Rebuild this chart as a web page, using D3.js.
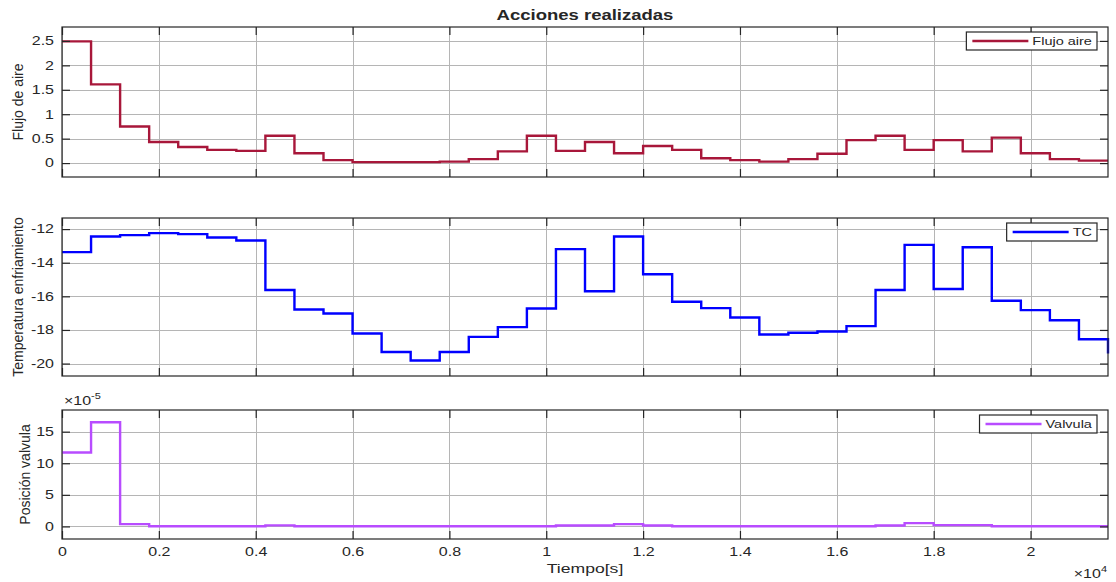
<!DOCTYPE html>
<html>
<head>
<meta charset="utf-8">
<script src="https://cdn.jsdelivr.net/npm/d3@7"></script>
<style>
  body { margin: 0; background: #fff; }
  svg { display: block; }
  text { font-family: "Liberation Sans", Arial, Helvetica, sans-serif; fill: #262626; }
</style>
</head>
<body>
<svg id="chart" width="1116" height="582"></svg>
<script>
// Sample instants (s): one control action every 600 s, plus the closing instant.
const times = [0, 600, 1200, 1800, 2400, 3000, 3600, 4200, 4800, 5400, 6000, 6600,
  7200, 7800, 8400, 9000, 9600, 10200, 10800, 11400, 12000, 12600, 13200, 13800,
  14400, 15000, 15600, 16200, 16800, 17400, 18000, 18600, 19200, 19800, 20400, 21000, 21600];

// Air flow action
const flujoAire = [2.49, 1.61, 0.75, 0.43, 0.33, 0.27, 0.25, 0.56, 0.20, 0.06, 0.02, 0.02,
  0.02, 0.03, 0.08, 0.24, 0.56, 0.25, 0.43, 0.20, 0.35, 0.27, 0.10, 0.06,
  0.03, 0.08, 0.19, 0.47, 0.56, 0.27, 0.47, 0.24, 0.52, 0.20, 0.08, 0.05, 0.05];

// Cooling temperature action (TC)
const tempEnfriamiento = [-13.37, -12.44, -12.36, -12.24, -12.30, -12.50, -12.68, -15.62, -16.78, -17.02, -18.21, -19.31,
  -19.82, -19.31, -18.41, -17.83, -16.72, -13.19, -15.70, -12.44, -14.69, -16.32, -16.70, -17.26,
  -18.27, -18.17, -18.09, -17.77, -15.62, -12.94, -15.56, -13.08, -16.26, -16.82, -17.42, -18.55, -19.40];

// Valve position
const posValvula = [11.7e-5, 16.5e-5, 0.37e-5, 0.04e-5, 0.02e-5, 0.02e-5, 0.02e-5, 0.16e-5, 0.02e-5, 0.02e-5, 0.02e-5, 0.02e-5,
  0.02e-5, 0.02e-5, 0.02e-5, 0.02e-5, 0.02e-5, 0.15e-5, 0.15e-5, 0.37e-5, 0.15e-5, 0.02e-5, 0.02e-5, 0.02e-5,
  0.02e-5, 0.02e-5, 0.02e-5, 0.02e-5, 0.15e-5, 0.52e-5, 0.20e-5, 0.20e-5, 0.02e-5, 0.02e-5, 0.02e-5, 0.02e-5, 0.02e-5];

// Axis ticks and their labels
const xTicks = [0, 2000, 4000, 6000, 8000, 10000, 12000, 14000, 16000, 18000, 20000];
const xTickLabels = ["0", "0.2", "0.4", "0.6", "0.8", "1", "1.2", "1.4", "1.6", "1.8", "2"];
const flujoTicks = [0, 0.5, 1, 1.5, 2, 2.5];
const flujoTickLabels = ["0", "0.5", "1", "1.5", "2", "2.5"];
const tempTicks = [-20, -18, -16, -14, -12];
const tempTickLabels = ["-20", "-18", "-16", "-14", "-12"];
const valvTicks = [0, 5e-5, 10e-5, 15e-5];
const valvTickLabels = ["0", "5", "10", "15"];

const seriesNames = ["Flujo aire", "TC", "Valvula"];
const yLabels = ["Flujo de aire", "Temperatura enfriamiento", "Posición valvula"];

// ---- layout ----
const SQ = 0.75;            // vertical squash applied to horizontal text
const left = 62, right = 1108;
const axisColor = "#262626", gridColor = "#b5b5b5";
const FONT_TICK = 16;

const panels = [
  { values: flujoAire, top: 27, bottom: 177, domain: [-0.285, 2.785],
    ticks: flujoTicks, labels: flujoTickLabels, color: "#a8173a",
    name: seriesNames[0], ylabel: yLabels[0], ylabelX: 23 },
  { values: tempEnfriamiento, top: 218, bottom: 376, domain: [-20.74, -11.34],
    ticks: tempTicks, labels: tempTickLabels, color: "#0000ff",
    name: seriesNames[1], ylabel: yLabels[1], ylabelX: 23 },
  { values: posValvula, top: 410, bottom: 539, domain: [-1.99e-5, 18.43e-5],
    ticks: valvTicks, labels: valvTickLabels, color: "#b84cff",
    name: seriesNames[2], ylabel: yLabels[2], ylabelX: 30 }
];

const svg = d3.select("#chart");
const x = d3.scaleLinear().domain([0, 21600]).range([left, right]);

function squashText(sel) {
  sel.attr("transform", `scale(1,${SQ})`);
}

panels.forEach((p, pi) => {
  const y = d3.scaleLinear().domain(p.domain).range([p.bottom, p.top]);
  const g = svg.append("g");
  const clipId = "clip" + pi;
  svg.append("clipPath").attr("id", clipId)
    .append("rect").attr("x", left - 2).attr("y", p.top - 2)
    .attr("width", right - left + 4).attr("height", p.bottom - p.top + 4);

  // grid
  const grid = g.append("g").attr("stroke", gridColor).attr("stroke-width", 1);
  grid.selectAll("line.v").data(xTicks).join("line")
    .attr("x1", d => Math.round(x(d)) + 0.5).attr("x2", d => Math.round(x(d)) + 0.5)
    .attr("y1", p.top).attr("y2", p.bottom);
  grid.selectAll("line.h").data(p.ticks).join("line")
    .attr("x1", left).attr("x2", right)
    .attr("y1", d => Math.round(y(d)) + 0.5).attr("y2", d => Math.round(y(d)) + 0.5);

  // stairs line
  const pts = times.map((t, i) => ({ t, v: p.values[i] }));
  const line = d3.line().x(d => x(d.t)).y(d => y(d.v)).curve(d3.curveStepAfter);
  g.append("path").datum(pts)
    .attr("clip-path", `url(#${clipId})`)
    .attr("fill", "none").attr("stroke", p.color).attr("stroke-width", 2.4)
    .attr("stroke-linejoin", "miter").attr("d", line);

  // axes with inward ticks on all four sides
  const yLeft = d3.axisLeft(y).tickValues(p.ticks).tickFormat((d, i) => p.labels[i])
    .tickSizeInner(-8).tickSizeOuter(0).tickPadding(8);
  const yRight = d3.axisRight(y).tickValues(p.ticks).tickFormat("")
    .tickSizeInner(-8).tickSizeOuter(0);
  const xTop = d3.axisTop(x).tickValues(xTicks).tickFormat("")
    .tickSizeInner(-8).tickSizeOuter(0);
  const xBottom = d3.axisBottom(x).tickValues(xTicks)
    .tickFormat(pi === panels.length - 1 ? (d, i) => xTickLabels[i] : "")
    .tickSizeInner(-8).tickSizeOuter(0);

  const styleAxis = sel => {
    sel.select(".domain").remove();
    sel.selectAll("line").attr("stroke", axisColor).attr("stroke-width", 1.2);
    sel.selectAll("text").attr("font-size", FONT_TICK).attr("fill", axisColor)
      .style("font-family", '"Liberation Sans", Arial, sans-serif');
  };

  const gl = g.append("g").attr("transform", `translate(${left},0)`).call(yLeft).call(styleAxis);
  gl.selectAll("text").call(squashText);
  g.append("g").attr("transform", `translate(${right},0)`).call(yRight).call(styleAxis);
  g.append("g").attr("transform", `translate(0,${p.top})`).call(xTop).call(styleAxis);
  const gb = g.append("g").attr("transform", `translate(0,${p.bottom})`).call(xBottom).call(styleAxis);
  gb.selectAll("text").attr("y", 0).attr("dy", 0)
    .attr("transform", `translate(0,17) scale(1,${SQ})`);

  // box
  g.append("rect").attr("x", left).attr("y", p.top)
    .attr("width", right - left).attr("height", p.bottom - p.top)
    .attr("fill", "none").attr("stroke", axisColor).attr("stroke-width", 1.2);

  // y label
  g.append("text")
    .attr("transform", `translate(${p.ylabelX},${(p.top + p.bottom) / 2}) rotate(-90)`)
    .attr("text-anchor", "middle").attr("font-size", 14)
    .text(p.ylabel);

  // legend
  const lg = g.append("g");
  const lgRight = 1097, lgTop = p.top + 5, lgH = 18;
  const txt = lg.append("text").attr("font-size", 14.5).text(p.name);
  const tw = txt.node().getComputedTextLength();
  const lineLen = 56, padL = 6, gap = 4, padR = 5;
  const lgW = padL + lineLen + gap + tw + padR;
  const lgLeft = lgRight - lgW;
  lg.insert("rect", "text").attr("x", lgLeft).attr("y", lgTop).attr("width", lgW).attr("height", lgH)
    .attr("fill", "#fff").attr("stroke", axisColor).attr("stroke-width", 1.2);
  lg.append("line").attr("x1", lgLeft + padL).attr("x2", lgLeft + padL + lineLen)
    .attr("y1", lgTop + lgH / 2).attr("y2", lgTop + lgH / 2)
    .attr("stroke", p.color).attr("stroke-width", 2.4);
  txt.attr("transform", `translate(${lgLeft + padL + lineLen + gap},${lgTop + lgH / 2 + 4}) scale(1,${SQ})`);
});

// title
svg.append("text")
  .attr("transform", `translate(${(left + right) / 2},20) scale(1,${SQ})`)
  .attr("text-anchor", "middle").attr("font-size", 18.5).attr("font-weight", "bold")
  .attr("fill", "#000")
  .text("Acciones realizadas");

// x label
svg.append("text")
  .attr("transform", `translate(${(left + right) / 2},573) scale(1,${SQ})`)
  .attr("text-anchor", "middle").attr("font-size", 17.6)
  .text("Tiempo[s]");

// exponent markers
const expY = svg.append("text")
  .attr("transform", `translate(64,405) scale(1,${SQ})`)
  .attr("font-size", 16);
expY.append("tspan").text("×10");
expY.append("tspan").attr("font-size", 11).attr("dy", -8).text("-5");

const expX = svg.append("text")
  .attr("transform", `translate(1107,578) scale(1,${SQ})`)
  .attr("text-anchor", "end").attr("font-size", 16);
expX.append("tspan").text("×10");
expX.append("tspan").attr("font-size", 11).attr("dy", -8).text("4");
</script>
</body>
</html>
